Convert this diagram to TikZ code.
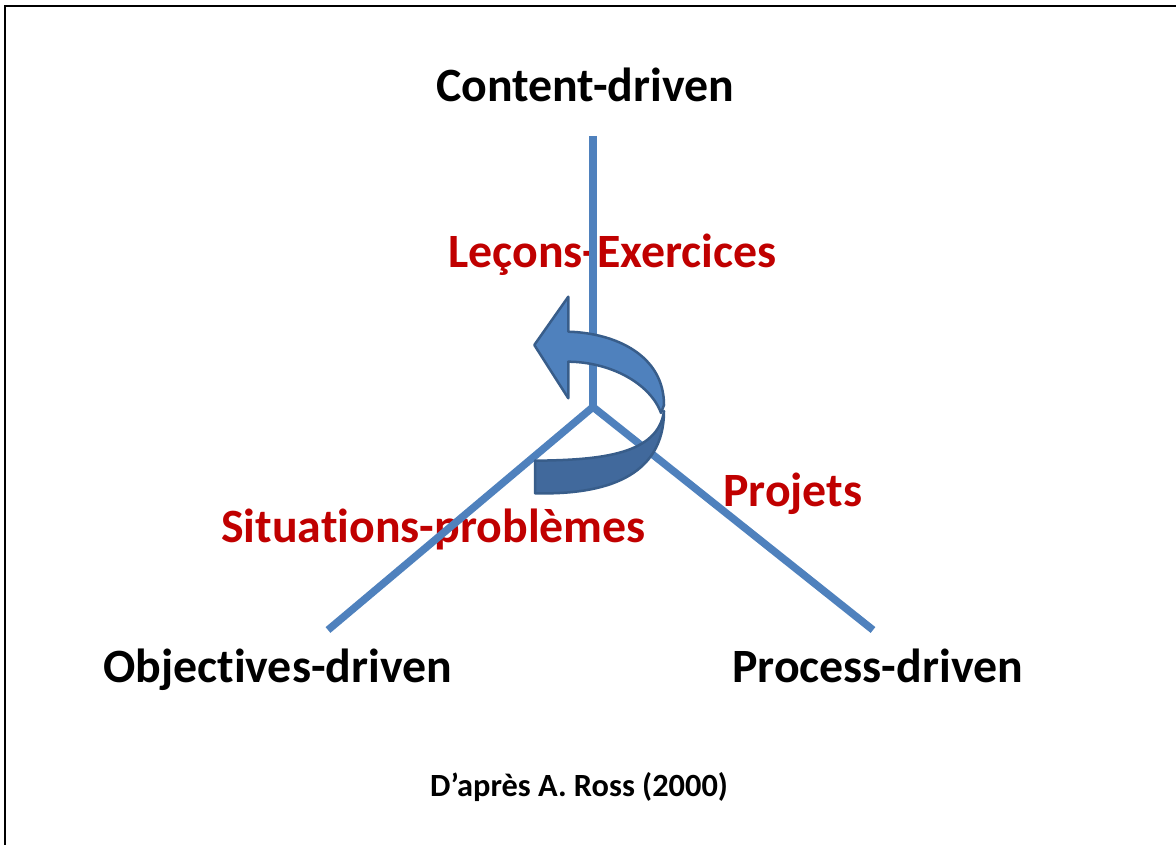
\documentclass[tikz,border=0pt]{standalone}
\usepackage{fontspec}
\setmainfont[Ligatures=NoCommon]{Carlito}
\definecolor{axisblue}{HTML}{4F81BD}
\definecolor{arrowdark}{HTML}{41699C}
\definecolor{arrowline}{HTML}{385D8A}
\definecolor{labelred}{HTML}{C00000}
\begin{document}
\begin{tikzpicture}[line join=miter,
  axis/.style={axisblue,line width=7.5bp},
  pole/.style={anchor=base west,inner sep=0pt,font=\bfseries\fontsize{48}{56}\selectfont},
  method/.style={pole,text=labelred},
  ]
%%
\useasboundingbox (0bp,0bp) rectangle (1176bp,845bp);
\draw [line width=2bp] (5bp,-20bp) -- (5bp,839bp) -- (1190bp,839bp);
\coordinate (o) at (593bp,438bp);
  \coordinate (top) at (593bp,709bp);
  \coordinate (objend) at (328bp,215bp);
  \coordinate (procend) at (873bp,215bp);
  \node (Content-driven) at (436bp,743bp) [pole] {Content-driven};
  \node (Objectives-driven) at (103bp,162bp) [pole] {Objectives-driven};
  \node (Process-driven) at (732bp,162bp) [pole] {Process-driven};
  \node (Lecons-Exercices) at (448bp,577bp) [method] {Leçons-Exercices};
  \node (Situations-problemes) at (221bp,302bp) [method] {Situations-problèmes};
  \node (Projets) at (723bp,338bp) [method] {Projets};
  \node (Ross) at (430bp,48bp) [anchor=base west,inner sep=0pt,font=\bfseries\fontsize{32.5}{38}\selectfont] {D’après A. Ross (2000)};
  \draw [axis] (top) -- (o);
  \draw [axis] (objend) -- (o) -- (procend);
%
\filldraw [fill=arrowdark,draw=arrowline,line width=2.5bp,line join=round] (535bp,384.3bp) -- (535bp,351.7bp) ..controls (605bp,350bp) and (664bp,368bp) .. (664bp,434bp) ..controls (658bp,390bp) and (600bp,385bp) .. cycle;
  \filldraw [fill=axisblue,draw=arrowline,line width=2.5bp,line join=round] (568.3bp,513.3bp) ..controls (615bp,512bp) and (664bp,490bp) .. (664bp,440bp) -- (661bp,432bp) ..controls (650bp,462bp) and (610bp,483bp) .. (568.3bp,483.3bp) -- (568.3bp,446.7bp) -- (534.3bp,500bp) -- (568.3bp,548.3bp) -- cycle;
%
\end{tikzpicture}
\end{document}
